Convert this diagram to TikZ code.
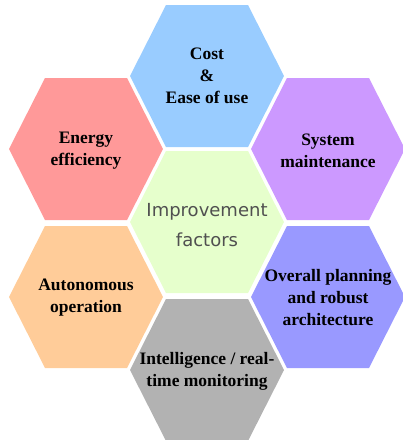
\documentclass[tikz,border=0pt]{standalone}
\usepackage{fontspec}
\setmainfont{Liberation Serif}
\newfontfamily\hubfont{DejaVu Sans}

\definecolor{costblue}{RGB}{153,204,255}
\definecolor{energyred}{RGB}{255,153,153}
\definecolor{systempurple}{RGB}{204,153,255}
\definecolor{hubgreen}{RGB}{230,255,204}
\definecolor{autoorange}{RGB}{255,204,153}
\definecolor{planviolet}{RGB}{153,153,255}
\definecolor{intelgray}{RGB}{178,178,178}
\definecolor{hubtext}{RGB}{80,80,80}

\tikzset{
  factor/.style={align=center, text=black, inner sep=0pt,
    font=\bfseries\fontsize{17.5}{22}\selectfont},
  hub/.style={align=center, text=hubtext, inner sep=0pt,
    font=\hubfont\fontsize{18}{30}\selectfont}
}

\begin{document}
\begin{tikzpicture}[x=1pt,y=-1pt]
\useasboundingbox (0,0) rectangle (403,440);
\clip (0,0) rectangle (403,440);
% honeycomb cells
\foreach \cx/\cy/\col in {207/76/costblue, 86/149/energyred, 328/149/systempurple,
    207/222/hubgreen, 86/297/autoorange, 328/297/planviolet, 207/370/intelgray}
  \fill[\col, shift={(\cx,\cy)}] (-77,0) -- (-41,-71) -- (41,-71) -- (77,0)
    -- (41,71) -- (-41,71) -- cycle;
% labels
\node[factor] (cost) at (207,76) {Cost\\\&\\Ease of use};
\node[factor] (energy) at (86,151) {Energy\\efficiency};
\node[factor] (system) at (328,151) {System\\maintenance};
\node[hub] (improve) at (207,225) {Improvement\\factors};
\node[factor] (auto) at (86,298) {Autonomous\\operation};
\node[factor] (plan) at (328,298) {Overall planning\\and robust\\architecture};
\node[factor] (intel) at (207,371) {Intelligence / real-\\time monitoring};
\end{tikzpicture}
\end{document}
